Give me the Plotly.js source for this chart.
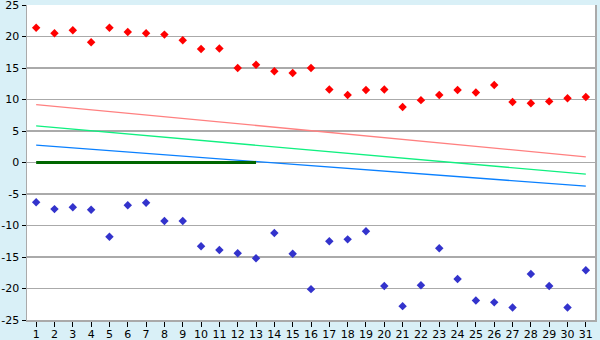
<!DOCTYPE html>
<html>
<head>
<meta charset="utf-8">
<script src="https://cdn.plot.ly/plotly-3.0.1.min.js"></script>
<style>
html,body{margin:0;padding:0;background:#d9f0f7;}
#chart{width:600px;height:340px;}
</style>
</head>
<body>
<div id="chart"></div>
<script>
const days = [1,2,3,4,5,6,7,8,9,10,11,12,13,14,15,16,17,18,19,20,21,22,23,24,25,26,27,28,29,30,31];
const highs = [21.4,20.5,21.0,19.1,21.4,20.7,20.5,20.3,19.4,18.0,18.1,15.0,15.5,14.5,14.2,15.0,11.6,10.7,11.5,11.6,8.8,9.9,10.7,11.5,11.1,12.3,9.6,9.4,9.7,10.2,10.4];
const lows = [-6.3,-7.4,-7.1,-7.5,-11.8,-6.8,-6.4,-9.3,-9.3,-13.3,-13.9,-14.4,-15.2,-11.2,-14.5,-20.1,-12.5,-12.2,-10.9,-19.6,-22.8,-19.5,-13.6,-18.5,-21.9,-22.2,-23.0,-17.7,-19.6,-23.0,-17.1];
const yTicks = [-25,-20,-15,-10,-5,0,5,10,15,20,25];
const trendDays = [1,31];
const redTrend = [9.2,0.9];
const greenTrend = [5.8,-1.85];
const blueTrend = [2.75,-3.75];
const zeroDays = [1,13];
const zeroLine = [0,0];

const traces = [
  {x:trendDays,y:redTrend,mode:'lines',line:{color:'#ff8080',width:1.3},hoverinfo:'skip'},
  {x:trendDays,y:greenTrend,mode:'lines',line:{color:'#10f080',width:1.3},hoverinfo:'skip'},
  {x:trendDays,y:blueTrend,mode:'lines',line:{color:'#0a80ff',width:1.3},hoverinfo:'skip'},
  {x:zeroDays,y:zeroLine,mode:'lines',line:{color:'#006600',width:3},hoverinfo:'skip'},
  {x:days,y:highs,mode:'markers',marker:{symbol:'diamond',size:6.5,color:'#ff0000'}},
  {x:days,y:lows,mode:'markers',marker:{symbol:'diamond',size:6.5,color:'#3333cc'}}
];

const layout = {
  width:600,height:340,
  margin:{l:27,r:5,t:5,b:20},
  paper_bgcolor:'#d9f0f7',
  plot_bgcolor:'#ffffff',
  showlegend:false,
  font:{family:'DejaVu Sans, Verdana, sans-serif',size:11,color:'#000'},
  xaxis:{
    range:[0.5,31.5],tickmode:'array',tickvals:days,ticktext:days.map(String),
    showgrid:false,zeroline:false,showline:true,linecolor:'#aaaaaa',linewidth:1.5,
    ticks:'outside',ticklen:5,tickcolor:'#000',tickwidth:1,fixedrange:true,
    ticklabelstandoff:-2,ticklabeloverflow:'allow',
    tickfont:{size:11}
  },
  yaxis:{
    range:[-25,25],tickmode:'array',tickvals:yTicks,ticktext:yTicks.map(String),
    showgrid:true,gridcolor:'#aaaaaa',gridwidth:1.3,zeroline:false,
    showline:true,linecolor:'#aaaaaa',linewidth:1.5,mirror:true,
    ticks:'outside',ticklen:4,tickcolor:'#000',tickwidth:1,fixedrange:true,
    ticklabeloverflow:'allow',
    tickfont:{size:11}
  }
};
Plotly.newPlot('chart',traces,layout,{displayModeBar:false,staticPlot:true});
</script>
</body>
</html>
